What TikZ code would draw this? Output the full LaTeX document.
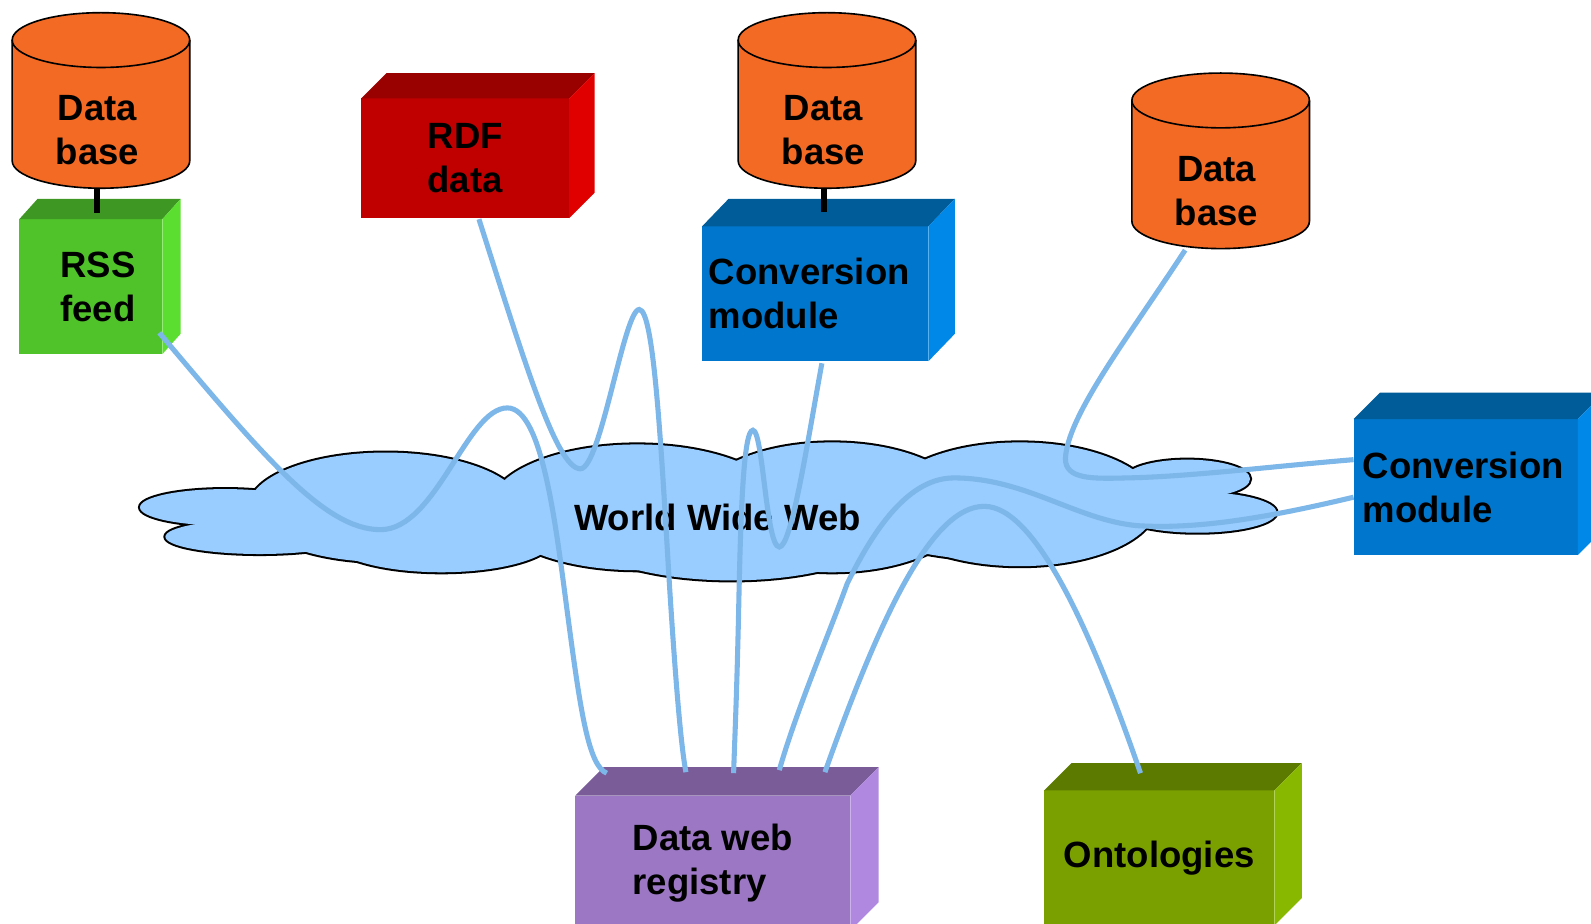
\documentclass[tikz,border=0pt]{standalone}
\usepackage{fontspec}
\setmainfont{Liberation Sans}
\usetikzlibrary{calc}
\definecolor{dborange}{RGB}{242,106,36}
\definecolor{cloudblue}{RGB}{153,204,255}
\definecolor{wireblue}{RGB}{125,182,232}
\definecolor{rssF}{RGB}{80,194,42}\definecolor{rssT}{RGB}{62,150,35}\definecolor{rssS}{RGB}{92,222,48}
\definecolor{rdfF}{RGB}{192,0,0}\definecolor{rdfT}{RGB}{153,0,0}\definecolor{rdfS}{RGB}{224,0,0}
\definecolor{cnvF}{RGB}{0,119,204}\definecolor{cnvT}{RGB}{0,92,153}\definecolor{cnvS}{RGB}{0,136,232}
\definecolor{regF}{RGB}{155,119,196}\definecolor{regT}{RGB}{122,92,153}\definecolor{regS}{RGB}{176,136,224}
\definecolor{ontF}{RGB}{122,160,0}\definecolor{ontT}{RGB}{92,122,0}\definecolor{ontS}{RGB}{136,184,0}
\newcommand\cubefaces[4]{%
  \fill[#4T] (#1.north west) -- ++(#2,-#3) -- ($(#1.north east)+(#2,-#3)$) -- (#1.north east) -- cycle;
  \fill[#4S] (#1.north east) -- ++(#2,-#3) -- ($(#1.south east)+(#2,-#3)$) -- (#1.south east) -- cycle;}
\newcommand\dbcyl[1]{%
  \draw[dbline] ($(#1.north west)+(0,27)$) -- ($(#1.south west)+(0,-27)$)
     arc[start angle=180,end angle=360,x radius=87.5pt,y radius=27pt]
     -- ($(#1.north east)+(0,27)$)
     arc[start angle=0,end angle=180,x radius=87.5pt,y radius=27pt] -- cycle;
  \draw[dbrim] ($(#1.north west)+(0,27)$) arc[start angle=180,end angle=360,x radius=87.5pt,y radius=27pt];}
\begin{document}
\begin{tikzpicture}[x=1pt,y=-1pt,
  txt/.style={font=\bfseries\fontsize{36}{43.5}\selectfont, align=center, inner sep=0pt, text=black},
  cube/.style={txt, inner sep=0pt, outer sep=0pt},
  dbbox/.style={inner sep=0pt, outer sep=0pt, minimum width=175pt, minimum height=173pt},
  dbline/.style={fill=dborange, draw=black, line width=1.6pt},
  dbrim/.style={draw=black, line width=1.6pt},
  stub/.style={draw=black, line width=6pt},
  wire/.style={draw=wireblue, line width=5pt}]
\useasboundingbox (0,0) rectangle (1568,910);
\clip (0,0) rectangle (1568,910);
% cloud
\def\cloudlobes{222/500/84/18, 256/529/93/17, 380/500/135/54, 435/530/112/34,
   628/500/145/62, 820/500/135/64, 721/515/162/57, 1005/497/135/61, 985/515/130/37,
   1170/472/62/19, 1180/505/78/20}
\foreach \cx/\cy/\rx/\ry in \cloudlobes
  \draw[black, line width=4pt] (\cx,\cy) ellipse [x radius=\rx*1pt, y radius=\ry*1pt];
\foreach \cx/\cy/\rx/\ry in \cloudlobes
  \fill[cloudblue] (\cx,\cy) ellipse [x radius=\rx*1pt, y radius=\ry*1pt];
\node[txt] (www) at (707,510) {World Wide Web};
% boxes
\node[cube, fill=rssF, minimum width=141pt, minimum height=133pt] (rss) at (89.5,282.5) {\hspace*{14pt}RSS\\\hspace*{14pt}feed};
\cubefaces{rss}{18}{20}{rss}
\node[cube, fill=rdfF, minimum width=205pt, minimum height=118pt] (rdf) at (458.5,156) {RDF\\data};
\cubefaces{rdf}{25}{25}{rdf}
\node[cube, fill=cnvF, minimum width=223pt, minimum height=133pt, text width=210pt, align=left] (conv1) at (803.5,289.5) {Conversion\\module};
\cubefaces{conv1}{26}{27}{cnv}
\node[cube, fill=cnvF, minimum width=221pt, minimum height=134pt, text width=203pt, align=left] (conv2) at (1444.5,480) {Conversion\\module};
\cubefaces{conv2}{26}{26}{cnv}
\node[cube, fill=regF, minimum width=271pt, minimum height=133pt, align=left] (reg) at (702.5,850.5) {Data web\\registry};
\cubefaces{reg}{28}{28}{reg}
\node[cube, fill=ontF, minimum width=227pt, minimum height=133pt] (ont) at (1142.5,845.5) {Ontologies};
\cubefaces{ont}{27}{27}{ont}
% databases
\node[dbbox] (db1) at (99.5,99) {};
\dbcyl{db1}
\node[txt] (db1t) at ($(db1.center)+(-3.5,29.5)$) {Data\\base};
\node[dbbox] (db2) at (815,99) {};
\dbcyl{db2}
\node[txt] (db2t) at ($(db2.center)+(-3.5,29.5)$) {Data\\base};
\node[dbbox] (db3) at (1203,158.5) {};
\dbcyl{db3}
\node[txt] (db3t) at ($(db3.center)+(-4,30)$) {Data\\base};
% stubs
\draw[stub] ($(db1.south)+(-3.5,0)$) -- ($(rss.north)+(6.5,-6)$);
\draw[stub] ($(db2.south)+(-3,0)$) -- ($(conv1.north)+(8.5,-14)$);
% wires
\draw[wire] ($(rss.south east)+(-3,-21)$) .. controls (260,450) and (320,522) .. (375,522)
   .. controls (430,522) and (460,402) .. (500,402)
   .. controls (535,402) and (548,520) .. (560,610)
   .. controls (572,700) and (580,755) .. ($(reg.north west)+(31,-22)$);
\draw[wire] ($(rdf.south west)+(116,1)$) .. controls (515,350) and (548,462) .. (572,462)
   .. controls (592,462) and (615,305) .. (630,305)
   .. controls (645,305) and (652,450) .. (660,580)
   .. controls (667,690) and (672,740) .. ($(reg.north west)+(109,-23)$);
\draw[wire] ($(conv1.south west)+(118,2)$) .. controls (795,440) and (780,539) .. (768,539)
   .. controls (755,539) and (752,424) .. (742,424)
   .. controls (733,424) and (730,500) .. (728,600)
   .. controls (726,690) and (724,730) .. ($(reg.north west)+(156,-22)$);
\draw[wire] ($(db3.south)+(-35,1.5)$) .. controls (1110,335) and (1052,410) .. (1050,452)
   .. controls (1050,472) and (1075,472) .. (1110,471)
   .. controls (1170,470) and (1250,460) .. ($(conv2.west)+(0,-27)$);
\draw[wire] ($(conv2.west)+(0,10)$) .. controls (1250,510) and (1180,522) .. (1120,518)
   .. controls (1060,512) and (1010,471) .. (940,471)
   .. controls (890,471) and (855,535) .. (835,575)
   .. controls (815,630) and (785,700) .. ($(reg.north west)+(201,-25)$);
\draw[wire] ($(reg.north west)+(246,-23)$) .. controls (870,600) and (920,499) .. (970,499)
   .. controls (1020,499) and (1075,620) .. ($(ont.north west)+(95,-17)$);
\end{tikzpicture}
\end{document}
